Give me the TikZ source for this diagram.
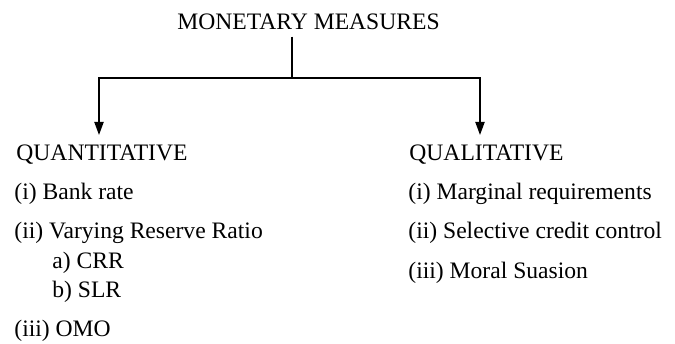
\documentclass[tikz,border=0pt]{standalone}
\usepackage{fontspec}
\setmainfont{Liberation Serif}
\usetikzlibrary{arrows.meta,positioning,calc}

\begin{document}
\begin{tikzpicture}[
    x=0.5pt, y=-0.5pt,
    titlebox/.style={
        anchor=base west,
        inner xsep=0pt,
        inner ysep=3.5pt,
        font=\fontsize{11.8}{14}\selectfont
    },
    heading/.style={
        anchor=base west,
        inner xsep=0pt,
        inner ysep=4.5pt,
        font=\fontsize{11.8}{14}\selectfont
    },
    item/.style={
        anchor=base west,
        inner sep=0pt,
        font=\fontsize{11.8}{14}\selectfont
    },
    arrow/.style={
        -{Triangle[length=6.5pt,width=4.6pt]},
        line width=0.7pt
    },
    branch/.style={
        line width=0.7pt
    }
]

\useasboundingbox (0,0) rectangle (675,343);

% =========================
% Title and the two groups
% =========================

\node[titlebox] (title) at (177,29)
{MONETARY MEASURES};

\node[heading] (quant) at (16,160)
{QUANTITATIVE};

\node[heading] (qual) at (409,160)
{QUALITATIVE};

% =========================
% Quantitative items
% =========================

\node[item] (bankrate) at (14,199) {(i) Bank rate};
\node[item] (ratio) at (14,238) {(ii) Varying Reserve Ratio};
\node[item] (crr) at (52,268) {a) CRR};
\node[item] (slr) at (52,297) {b) SLR};
\node[item] (omo) at (14,336) {(iii) OMO};

% =========================
% Qualitative items
% =========================

\node[item] (margin) at (408,199) {(i) Marginal requirements};
\node[item] (selective) at (408,238) {(ii) Selective credit control};
\node[item] (suasion) at (408,278) {(iii) Moral Suasion};

% =========================
% Branching connectors
% =========================

\coordinate (split) at (292,78);
\coordinate (leftend) at (99,78);
\coordinate (rightend) at (480,78);

\draw[branch] (split |- title.south) -- (split);

\draw[arrow]
(split)
-- (leftend)
-- (leftend |- quant.north);

\draw[arrow]
(split)
-- (rightend)
-- (rightend |- qual.north);

\end{tikzpicture}
\end{document}
